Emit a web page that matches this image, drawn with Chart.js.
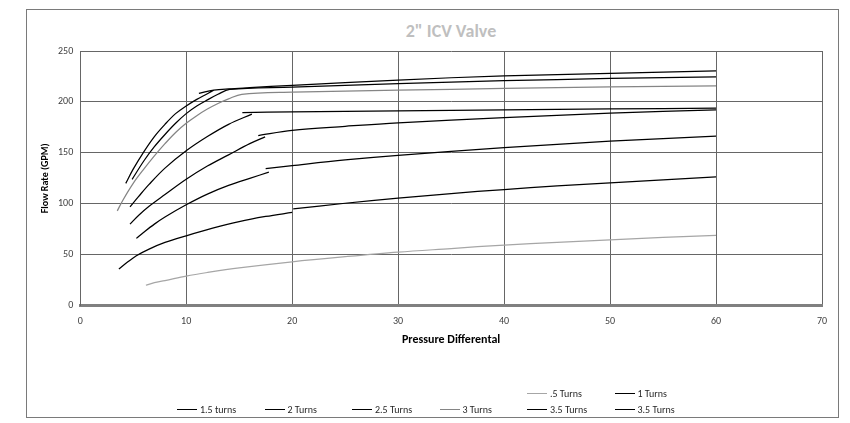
<!DOCTYPE html>
<html>
<head>
<meta charset="utf-8">
<script src="https://cdn.jsdelivr.net/npm/chart.js@4.4.1/dist/chart.umd.min.js"></script>
<style>
  html, body { margin: 0; padding: 0; background: #fff; }
  #wrap { position: relative; width: 850px; height: 423px; font-family: Carlito, Lato, sans-serif; }
  #frame { position: absolute; left: 26px; top: 9px; width: 811px; height: 407px; border: 1.5px solid #7a7a7a; }
  #title { position: absolute; left: 80px; width: 742px; top: 20px; text-align: center;
           font-weight: bold; font-size: 18px; color: #bfbfbf; }
  #valveChart { position: absolute; left: 0; top: 0; }
  #legend { position: absolute; left: 177px; top: 386px; display: grid;
            grid-template-columns: repeat(6, 87.5px); grid-auto-rows: 15.5px; font-size: 10px; color: #262626; }
  .item { display: flex; align-items: center; white-space: nowrap; }
  .swatch { width: 20px; height: 0; margin-right: 3px; }
</style>
</head>
<body>
<div id="wrap">
  <div id="frame"></div>
  <div id="title">2" ICV Valve</div>
  <canvas id="valveChart" width="850" height="423"></canvas>
  <div id="legend"></div>
</div>
<script>
// [pressure, flow] pairs; [x, null] breaks the line
const halfTurn = [[6.2,20],[7,22.5],[8,24.5],[10,29],[12,32.5],[15,37],[20,43],[25,48],[30,52.5],[35,56],[40,59.5],[45,62.2],[50,64.5],[55,67],[60,69]]
const oneTurn = [[3.65,36],[4.5,43],[5.3,49],[6.5,55.5],[8,62],[10,68.5],[12.5,76],[15,82.5],[17.5,87.5],[20,91.5],[20,null],[20.1,95],[25,100.5],[30,105.5],[35,110],[40,114],[45,117.5],[50,120.5],[55,123.5],[60,126.5]]
const oneHalfTurns = [[5.3,66],[6,72],[7,80],[8,87],[10,99],[12,109.5],[14,118],[16,125],[17.8,131],[17.8,null],[17.5,134.6],[20,137.5],[25,143],[30,147.5],[40,155],[50,161.5],[60,166.3]]
const twoTurns = [[4.7,80],[5.5,88.5],[6.5,97.5],[8,109],[10,124],[12,137],[14,148],[16,159],[17.45,165.7],[17.45,null],[16.8,167],[20,172],[25,176],[30,179.5],[40,184.5],[50,189],[60,192.2]]
const twoHalfTurns = [[4.7,97],[5.5,107],[6.5,119],[8,135],[10,152],[12,166],[14,178],[16.2,188],[16.2,null],[15.3,189.6],[20,190.2],[30,191.2],[40,192.2],[50,193.1],[60,193.9]]
const threeTurns = [[3.5,93],[4,103],[5,120],[6,134],[7,147],[8,159],[9,170],[10,179],[11,186.5],[12,193],[13,198.5],[14,203],[15.25,207.5],[20,209.5],[30,211.5],[40,213.3],[50,214.8],[60,215.8]]
const threeHalfTurnsA = [[4.3,120],[5,134],[6,151],[7,166],[8,178],[9,188.5],[10,196],[11,202.5],[12,208],[12.6,211.5],[12.6,null],[11.2,208.5],[12.6,211.5],[14,212.8],[16,214],[20,216.3],[30,221.5],[40,225.6],[50,228],[60,230.5]]
const threeHalfTurnsB = [[4.9,124],[6,142],[7,156],[8,168],[9,179],[10,188.5],[11,196],[12,202],[13,207.5],[14.1,212.3],[20,214.5],[30,218],[40,220.8],[50,223],[60,224.6]]

const seriesNames = ['.5 Turns', '1 Turns', '1.5 turns', '2 Turns', '2.5 Turns', '3 Turns', '3.5 Turns', '3.5 Turns']
const seriesData = [halfTurn, oneTurn, oneHalfTurns, twoTurns, twoHalfTurns, threeTurns, threeHalfTurnsA, threeHalfTurnsB]
const seriesColors = ['#a6a6a6', '#000', '#000', '#000', '#000', '#858585', '#000', '#000']

const xRange = [0, 70, 10]
const yRange = [0, 250, 50]

const font = 'Carlito, Lato, sans-serif'

const datasets = seriesData.map((pts, i) => ({
  label: seriesNames[i],
  data: pts.map(p => ({ x: p[0], y: p[1] })),
  borderColor: seriesColors[i],
  borderWidth: 1.25,
  pointRadius: 0,
  tension: 0.35,
  fill: false,
}))

const chart = new Chart(document.getElementById('valveChart'), {
  type: 'line',
  data: { datasets },
  options: {
    responsive: false,
    animation: false,
    devicePixelRatio: 1,
    layout: { padding: { left: 31, right: 28, top: 51, bottom: 76 } },
    plugins: {
      legend: { display: false },
      title: { display: false },
      tooltip: { enabled: false },
    },
    scales: {
      x: {
        type: 'linear',
        min: xRange[0], max: xRange[1],
        ticks: { stepSize: xRange[2], padding: 10, color: '#404040', font: { family: font, size: 10 } },
        grid: { color: '#666', drawTicks: false },
        border: { color: '#808080', width: 3 },
        title: { display: true, text: 'Pressure Differental', color: '#000',
                 font: { family: font, size: 12, weight: 'bold' }, padding: { top: -5, bottom: 0 } },
      },
      y: {
        min: yRange[0], max: yRange[1],
        ticks: { stepSize: yRange[2], padding: 7, color: '#404040', font: { family: font, size: 10 } },
        grid: { color: '#666', drawTicks: false },
        border: { color: '#666', width: 1 },
        title: { display: true, text: 'Flow Rate (GPM)', color: '#000',
                 font: { family: font, size: 10, weight: 'bold' }, padding: { top: 8, bottom: 0 } },
      },
    },
  },
})

// legend laid out like the original: full bottom row, remainder right-aligned above
const legendBox = document.getElementById('legend')
const cols = 6
const firstRow = seriesNames.length - cols
seriesNames.forEach((name, i) => {
  const item = document.createElement('div')
  item.className = 'item'
  if (i < firstRow) {
    item.style.gridRow = 1
    item.style.gridColumn = cols - firstRow + i + 1
  } else {
    item.style.gridRow = 2
    item.style.gridColumn = i - firstRow + 1
  }
  const swatch = document.createElement('span')
  swatch.className = 'swatch'
  swatch.style.borderTop = '1.5px solid ' + seriesColors[i]
  item.appendChild(swatch)
  item.appendChild(document.createTextNode(name))
  legendBox.appendChild(item)
})
</script>
</body>
</html>
